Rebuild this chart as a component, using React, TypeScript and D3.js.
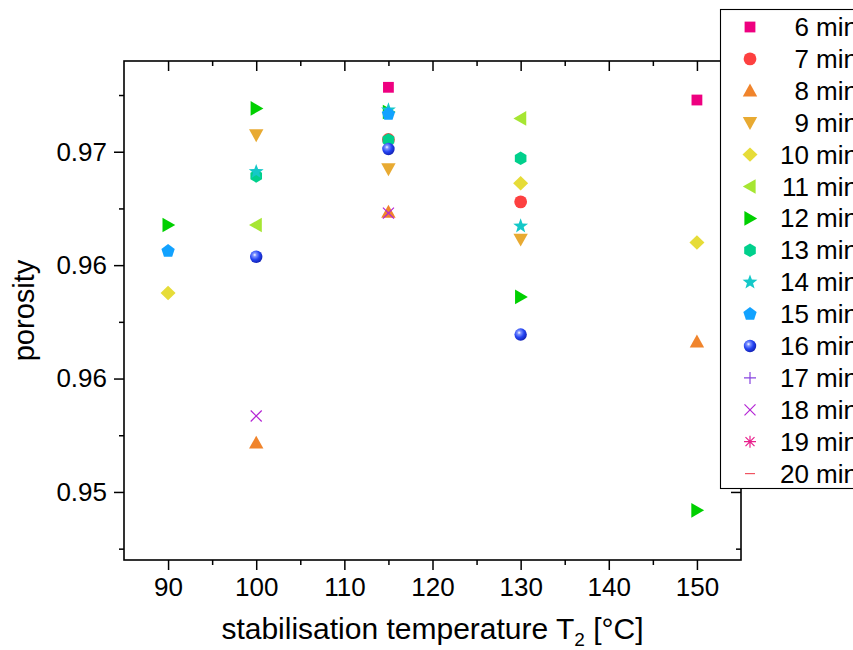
import React, { useEffect, useRef } from "react";
import * as d3 from "d3";

// stabilisation temperatures (x)
const temperatures = [90, 100, 115, 130, 150];

const seriesNames = [
  "6 min", "7 min", "8 min", "9 min", "10 min", "11 min", "12 min", "13 min",
  "14 min", "15 min", "16 min", "17 min", "18 min", "19 min", "20 min",
];

const seriesColors = [
  "#ee0080", "#fd4040", "#f0842c", "#e8aa32", "#e6dc38", "#a6e632", "#00d000",
  "#00d08c", "#14c8c8", "#12a2ff", "#2040f0", "#8844e0", "#b424d4", "#e8208c", "#f05462",
];

const seriesShapes = [
  "square", "circle", "triUp", "triDown", "diamond", "triLeft", "triRight", "hexagon",
  "star", "pentagon", "sphere", "plus", "times", "asterisk", "dash",
];

// porosity per series, one value per temperature (null = no point)
const porosity6 = [null, null, 0.97284, null, 0.97228];
const porosity7 = [null, null, 0.97054, 0.96779, null];
const porosity8 = [null, 0.95716, 0.96734, null, 0.96162];
const porosity9 = [null, 0.97074, 0.96924, 0.96614, null];
const porosity10 = [0.96377, null, null, 0.96861, 0.966];
const porosity11 = [null, 0.96677, null, 0.97147, null];
const porosity12 = [0.96677, 0.97191, 0.97175, 0.9636, 0.95419];
const porosity13 = [null, 0.96893, 0.97052, 0.96971, null];
const porosity14 = [null, 0.96912, 0.97184, 0.96672, null];
const porosity15 = [0.96562, null, 0.97166, null, null];
const porosity16 = [null, 0.96537, 0.97012, 0.96194, null];
const porosity17 = [null, null, null, null, null];
const porosity18 = [null, 0.95835, 0.96729, null, null];
const porosity19 = [null, null, null, null, null];
const porosity20 = [null, null, null, null, null];

const porositySeries = [
  porosity6, porosity7, porosity8, porosity9, porosity10, porosity11, porosity12,
  porosity13, porosity14, porosity15, porosity16, porosity17, porosity18, porosity19, porosity20,
];

const xTickValues = [90, 100, 110, 120, 130, 140, 150];
const xMinorTicks = [95, 105, 115, 125, 135, 145];
const yTickValues = [0.955, 0.96, 0.965, 0.97];
const yTickLabels = ["0.95", "0.96", "0.96", "0.97"];
const yMinorTicks = [0.9525, 0.9575, 0.9625, 0.9675, 0.9725];

const FONT = "'Liberation Sans', Arial, sans-serif";

const polygon = (pts) => "M" + pts.map((p) => p.join(",")).join("L") + "Z";

const regular = (n, r, start) =>
  polygon(
    d3.range(n).map((i) => {
      const a = start + (i * 2 * Math.PI) / n;
      return [r * Math.cos(a), r * Math.sin(a)];
    })
  );

const markerPath = (shape) => {
  switch (shape) {
    case "square":
      return polygon([[-5.4, -5.4], [5.4, -5.4], [5.4, 5.4], [-5.4, 5.4]]);
    case "triUp":
      return polygon([[0, -7.2], [7.2, 5.6], [-7.2, 5.6]]);
    case "triDown":
      return polygon([[0, 7.2], [7.2, -5.6], [-7.2, -5.6]]);
    case "triLeft":
      return polygon([[-7.2, 0], [5.6, -7.3], [5.6, 7.3]]);
    case "triRight":
      return polygon([[7.2, 0], [-5.6, -7.3], [-5.6, 7.3]]);
    case "diamond":
      return polygon([[0, -7.2], [7.5, 0], [0, 7.2], [-7.5, 0]]);
    case "hexagon":
      return regular(6, 6.7, -Math.PI / 2);
    case "pentagon":
      return regular(5, 7, -Math.PI / 2);
    case "star":
      return polygon(
        d3.range(10).map((i) => {
          const r = i % 2 === 0 ? 7.8 : 3.2;
          const a = -Math.PI / 2 + (i * Math.PI) / 5;
          return [r * Math.cos(a), r * Math.sin(a)];
        })
      );
    case "plus":
      return "M-6,0L6,0M0,-6L0,6";
    case "times":
      return "M-5.5,-5.5L5.5,5.5M-5.5,5.5L5.5,-5.5";
    case "asterisk":
      return "M-6,0L6,0M0,-6L0,6M-4.5,-4.5L4.5,4.5M-4.5,4.5L4.5,-4.5";
    case "dash":
      return "M-5,0L5,0";
    default:
      return "";
  }
};

const drawMarker = (g, shape, color, x, y) => {
  if (shape === "circle" || shape === "sphere") {
    g.append("circle")
      .attr("cx", x)
      .attr("cy", y)
      .attr("r", shape === "circle" ? 6.4 : 6.2)
      .attr("fill", shape === "circle" ? color : "url(#sphereGrad)");
    return;
  }
  const stroked = ["plus", "times", "asterisk", "dash"].includes(shape);
  g.append("path")
    .attr("transform", `translate(${x},${y})`)
    .attr("d", markerPath(shape))
    .attr("fill", stroked ? "none" : color)
    .attr("stroke", stroked ? color : "none")
    .attr("stroke-width", 1.2);
};

const PorosityChart = () => {
  const svgRef = useRef(null);
  const svgWidth = 853;
  const svgHeight = 650;
  const margin = { top: 61, right: 112, bottom: 90, left: 124 };
  const innerWidth = svgWidth - margin.left - margin.right;
  const innerHeight = svgHeight - margin.top - margin.bottom;

  useEffect(() => {
    const svg = d3.select(svgRef.current);
    svg.selectAll("*").remove();

    const defs = svg.append("defs");
    const grad = defs
      .append("radialGradient")
      .attr("id", "sphereGrad")
      .attr("cx", "38%")
      .attr("cy", "35%")
      .attr("r", "65%");
    grad.append("stop").attr("offset", "0%").attr("stop-color", "#ffffff");
    grad.append("stop").attr("offset", "22%").attr("stop-color", "#7d92ff");
    grad.append("stop").attr("offset", "60%").attr("stop-color", "#2444f2");
    grad.append("stop").attr("offset", "100%").attr("stop-color", "#1424b8");

    const xScale = d3.scaleLinear().domain([85, 155]).range([0, innerWidth]);
    const yScale = d3.scaleLinear().domain([0.952, 0.974]).range([innerHeight, 0]);

    const g = svg
      .append("g")
      .attr("transform", `translate(${margin.left},${margin.top})`);

    const styleAxis = (sel, fontSize) => {
      sel.select(".domain").remove();
      sel.selectAll("line").attr("stroke", "#000").attr("stroke-width", 1.5);
      sel.selectAll("text")
        .attr("fill", "#000")
        .style("font-family", FONT)
        .style("font-size", fontSize + "px");
    };

    // bottom axis
    const xAxisG = g
      .append("g")
      .attr("transform", `translate(0,${innerHeight})`)
      .call(d3.axisBottom(xScale).tickValues(xTickValues).tickSize(10).tickPadding(8).tickFormat(d3.format("d")));
    styleAxis(xAxisG, 26);
    const xMinorG = g
      .append("g")
      .attr("transform", `translate(0,${innerHeight})`)
      .call(d3.axisBottom(xScale).tickValues(xMinorTicks).tickSize(5).tickFormat(() => ""));
    styleAxis(xMinorG, 26);

    // top axis (mirrored, inward)
    const xTopG = g
      .append("g")
      .call(d3.axisTop(xScale).tickValues(xTickValues).tickSize(-10).tickFormat(() => ""));
    styleAxis(xTopG, 26);
    const xTopMinorG = g
      .append("g")
      .call(d3.axisTop(xScale).tickValues(xMinorTicks).tickSize(-5).tickFormat(() => ""));
    styleAxis(xTopMinorG, 26);

    // left axis
    const yAxisG = g
      .append("g")
      .call(
        d3.axisLeft(yScale)
          .tickValues(yTickValues)
          .tickSize(10)
          .tickPadding(7)
          .tickFormat((d, i) => yTickLabels[i])
      );
    styleAxis(yAxisG, 26);
    const yMinorG = g
      .append("g")
      .call(d3.axisLeft(yScale).tickValues(yMinorTicks).tickSize(5).tickFormat(() => ""));
    styleAxis(yMinorG, 26);

    // right axis (mirrored, inward)
    const yRightG = g
      .append("g")
      .attr("transform", `translate(${innerWidth},0)`)
      .call(d3.axisRight(yScale).tickValues(yTickValues).tickSize(-10).tickFormat(() => ""));
    styleAxis(yRightG, 26);
    const yRightMinorG = g
      .append("g")
      .attr("transform", `translate(${innerWidth},0)`)
      .call(d3.axisRight(yScale).tickValues(yMinorTicks).tickSize(-5).tickFormat(() => ""));
    styleAxis(yRightMinorG, 26);

    // frame
    g.append("rect")
      .attr("x", 0)
      .attr("y", 0)
      .attr("width", innerWidth)
      .attr("height", innerHeight)
      .attr("fill", "none")
      .attr("stroke", "#000")
      .attr("stroke-width", 1.6);

    // axis titles
    const xTitle = svg
      .append("text")
      .attr("x", margin.left + innerWidth / 2)
      .attr("y", 639)
      .attr("text-anchor", "middle")
      .style("font-family", FONT)
      .style("font-size", "30px")
      .attr("fill", "#000");
    xTitle.append("tspan").text("stabilisation temperature T");
    xTitle.append("tspan").attr("dy", 7).style("font-size", "19px").text("2");
    xTitle.append("tspan").attr("dy", -7).text(" [°C]");

    svg
      .append("text")
      .attr("transform", `translate(34,${margin.top + innerHeight / 2}) rotate(-90)`)
      .attr("text-anchor", "middle")
      .style("font-family", FONT)
      .style("font-size", "29px")
      .attr("fill", "#000")
      .text("porosity");

    // data points
    porositySeries.forEach((values, si) => {
      const sg = g.append("g");
      values.forEach((v, ti) => {
        if (v === null) return;
        drawMarker(sg, seriesShapes[si], seriesColors[si], xScale(temperatures[ti]), yScale(v));
      });
    });

    // legend
    const legend = svg.append("g");
    legend
      .append("rect")
      .attr("x", 720.5)
      .attr("y", 9.5)
      .attr("width", 200)
      .attr("height", 479)
      .attr("fill", "#fff")
      .attr("stroke", "#000")
      .attr("stroke-width", 1.1);
    seriesNames.forEach((name, i) => {
      const cy = 27 + i * 31.9;
      drawMarker(legend, seriesShapes[i], seriesColors[i], 750, cy);
      legend
        .append("text")
        .attr("x", 858)
        .attr("y", cy + 9)
        .attr("text-anchor", "end")
        .style("font-family", FONT)
        .style("font-size", "26px")
        .attr("fill", "#000")
        .text(name);
    });
  }, []);

  return (
    <svg
      ref={svgRef}
      width={svgWidth}
      height={svgHeight}
      style={{ position: "absolute", left: 0, top: 0, background: "#fff" }}
    ></svg>
  );
};

export default function App() {
  return <PorosityChart />;
}
